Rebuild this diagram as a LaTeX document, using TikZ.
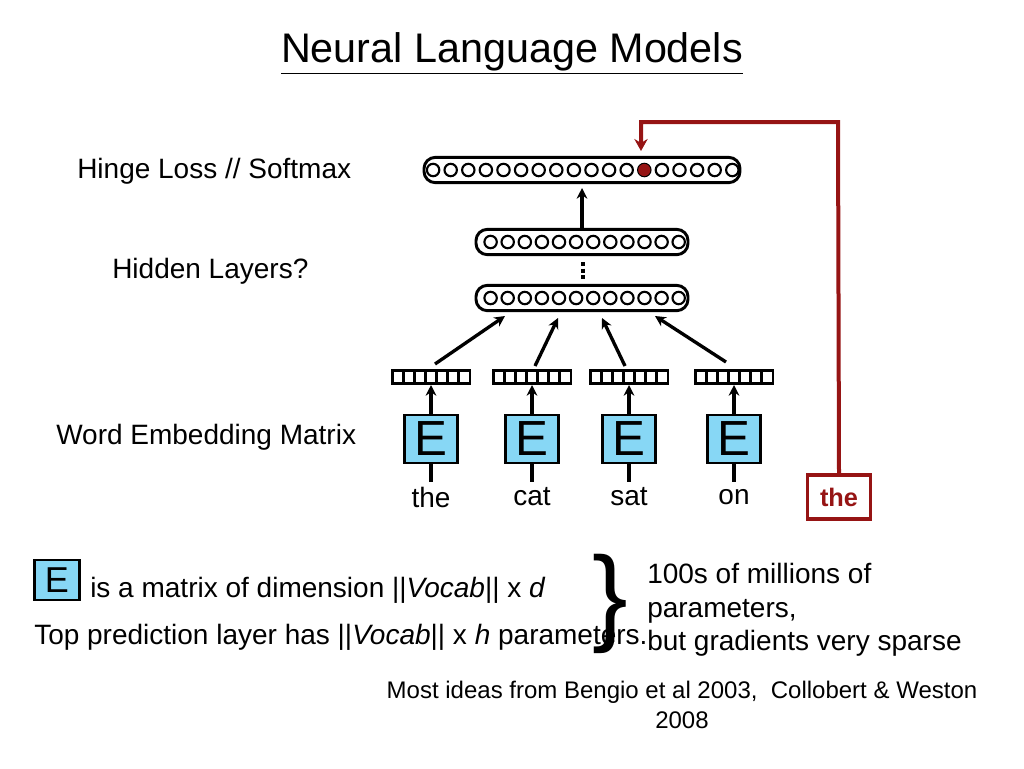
\documentclass[tikz,border=0pt]{standalone}
\usepackage{fontspec}
\setmainfont{Liberation Sans}
\usetikzlibrary{arrows.meta}
\definecolor{dred}{RGB}{150,20,20}
\definecolor{eblue}{RGB}{135,215,245}
\begin{document}
\begin{tikzpicture}[x=0.75pt,y=-0.75pt,
  lbl/.style={font=\fontsize{21}{24}\selectfont,inner sep=0},
  layer/.style={draw,line width=2.2pt,rounded corners=8.5pt,minimum height=19pt,inner sep=0},
  neuron/.style={circle,draw,line width=1.6pt,minimum size=9.3pt,inner sep=0},
  cell/.style={draw,line width=2pt,minimum width=8.3pt,minimum height=9.5pt,inner sep=0},
  ebox/.style={draw,line width=2pt,fill=eblue,minimum width=40pt,minimum height=36pt,inner sep=0,font=\fontsize{37}{37}\selectfont},
  arr/.style={line width=2.5pt,-{Stealth[length=8pt,width=8pt]}}]
\useasboundingbox (0,0) rectangle (1024,768);
\node[inner sep=0,font=\fontsize{31}{33}\selectfont] (title) at (512,53) {\underline{Neural Language Models}};
\node[lbl,anchor=west] (l1) at (77,171) {Hinge Loss // Softmax};
\node[lbl,anchor=west] (l2) at (112,271) {Hidden Layers?};
\node[lbl,anchor=west] (l3) at (56,437) {Word Embedding Matrix};
% top layer
\node[layer,minimum width=237pt] (top) at (582,170) {};
\foreach \i in {1,...,18}{\node[neuron] (t\i) at ({415.5+17.6*\i},170) {};}
\fill[dred] (t13) circle (4.6pt);
% hidden
\node[layer,minimum width=159pt] (h2) at (582,242) {};
\node[layer,minimum width=159pt] (h1) at (582,298) {};
\foreach \i in {1,...,12}{\node[neuron] at ({473.5+17.1*\i},242) {}; \node[neuron] at ({473.5+17.1*\i},298) {};}
\draw[line width=2.5pt,dash pattern=on 3pt off 2pt] (583,262) -- (583,281);
\draw[arr] (582,228) -- (582,188);
% embeddings
\foreach \c/\w [count=\k] in {431/the,532/cat,629/sat,734/on}{
  \foreach \j in {0,...,6}{\node[cell] at ({\c-33.3+11.1*\j},377) {};}
  \node[ebox] (e\k) at (\c,439) {E};
  \node[lbl] (w\k) at (\c,497) {\w};
  \coordinate (v\k) at (\c,385);
  \draw[line width=2.5pt] (e\k.south) -- (\c,482);
  \draw[arr] (e\k.north) -- (v\k);
}
\draw[arr] (435,364) -- (505,316);
\draw[arr] (535,366) -- (558,318);
\draw[arr] (625,366) -- (602,318);
\draw[arr] (726,362) -- (655,316);
% target
\node[draw=dred,line width=2.5pt,text=dred,font=\fontsize{19}{19}\selectfont\bfseries,minimum width=47pt,minimum height=33pt,inner sep=0] (tgt) at (839,497) {the};
\coordinate (c1) at (838,122);
\coordinate (c2) at (641,122);
\draw[dred,line width=3pt,-{Stealth[length=9pt,width=10pt]}] (tgt.north) -- (c1) -- (c2) -- (641,151);
% bottom text
\node[ebox,minimum width=34pt,minimum height=30pt,font=\fontsize{27}{27}\selectfont] (esm) at (57,580) {E};
\node[lbl,anchor=west] (t1) at (90,590) {is a matrix of dimension ||\textit{Vocab}|| x \textit{d}};
\node[lbl,anchor=west] (t2) at (34,637) {Top prediction layer has ||\textit{Vocab}|| x \textit{h} parameters.};
\node[inner sep=0,font=\fontsize{80}{80}\selectfont] (br) at (610,604) {\}};
\node[anchor=west,inner sep=0,align=left,font=\fontsize{21}{25}\selectfont] (t3) at (647,610) {100s of millions of\\parameters,\\but gradients very sparse};
\node[inner sep=0,align=center,font=\fontsize{18}{22}\selectfont] (t4) at (682,705) {Most ideas from Bengio et al 2003,\ \ Collobert \& Weston\\2008};
\end{tikzpicture}
\end{document}
